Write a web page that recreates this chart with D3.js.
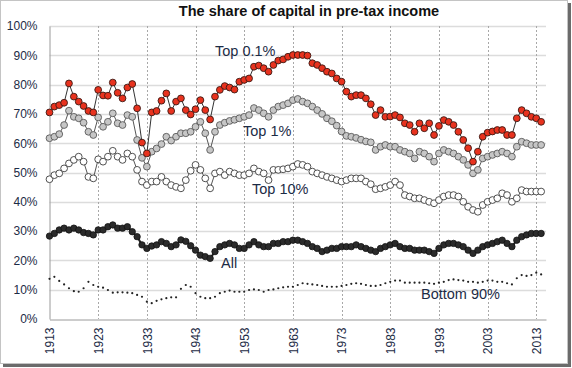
<!DOCTYPE html>
<html>
<head>
<meta charset="utf-8">
<script src="https://cdn.jsdelivr.net/npm/d3@7"></script>
<style>
	body { margin: 0; background: #fff; }
	svg { display: block; font-family: Arial, "Liberation Sans", sans-serif; }
</style>
</head>
<body>
<div id="chart"></div>
<script>
// <!-- ================================= -->
// <!-- DATA (share of capital, %, 1913-2014) -->
// <!-- ================================= -->
var firstYear = 1913;

var top01 = [70.5, 72.5, 73, 73.8, 80.4, 75.9, 74.2, 72.7, 71, 70.5,
	78.2, 76.3, 76.2, 80.7, 77.2, 75.3, 79, 80.2, 71.9, 60.2,
	56.5, 70.5, 71, 74.5, 77, 71, 74.2, 75.3, 71.3, 69.8,
	71.6, 74.7, 71.3, 68.1, 75.9, 78.2, 79.5, 79, 78.3, 81,
	81.6, 82.1, 86.1, 86.5, 85.6, 84.4, 86.7, 88.2, 88.6, 89.5,
	90.1, 90.1, 90.1, 89.9, 87.3, 86.7, 85.6, 84.4, 83.8, 82.1,
	81, 77.6, 75.9, 76.4, 76.4, 75.3, 73.3, 69.6, 71.3, 69,
	69.1, 69.6, 68.8, 66.8, 66.2, 63.9, 66.8, 65.1, 66.8, 62.8,
	65.9, 67.9, 67.3, 66.2, 63.9, 61.1, 58.3, 53.7, 57.1, 62.2,
	63.6, 64, 64.5, 64.5, 62.8, 62.8, 68.5, 71.3, 70.2, 69,
	68.5, 67.3];

var top1 = [61.7, 62.2, 63.1, 66.2, 71.1, 69, 68.5, 67, 63.9, 62.8,
	68.8, 65.6, 67.3, 70.2, 66.8, 66.2, 69.6, 69, 61.1, 55,
	52, 57.1, 58.2, 59.7, 62.2, 60.9, 62.2, 63.4, 63.4, 63.9,
	65.6, 67.3, 63.4, 57.7, 63.9, 66.2, 67, 67.6, 68, 68.5,
	69, 69.6, 72, 71.3, 70.2, 69, 71.3, 72.5, 73, 73.6,
	74.7, 75.1, 74.2, 73.6, 72.5, 71.3, 70, 68.5, 67.5, 66,
	64, 62.5, 62.2, 61.8, 61.2, 60.6, 60.3, 57.7, 58.8, 59.4,
	58.8, 58.8, 57.7, 57.1, 56.5, 54.8, 57.1, 56.5, 55.4, 53.7,
	56.5, 57.7, 57.1, 56.5, 55.4, 54.3, 52.6, 49.7, 50.9, 54.8,
	55.4, 56, 56.5, 57.1, 56.5, 55.4, 58.8, 60.5, 60, 59.4,
	59.4, 59.4];

var top10 = [47.7, 49.1, 49.7, 51.4, 53.1, 54.3, 55.4, 53.7, 48.5, 48,
	54.5, 53.7, 55.4, 57.4, 55.4, 54.3, 56.5, 55.4, 50.9, 46.9,
	45.7, 46.9, 46.9, 48.5, 46.9, 45.7, 45.1, 44.6, 47.4, 50.6,
	52.6, 50.9, 48, 44.6, 49.7, 50.3, 49.1, 50.3, 49.7, 49.1,
	49.1, 49.7, 51.4, 50.3, 49.7, 47.4, 50.9, 50.9, 51.1, 51.4,
	52, 52.9, 52.6, 52, 50.3, 49.7, 49.1, 48.5, 48, 47.4,
	46.9, 47.4, 48, 48, 48, 46.9, 46, 44.3, 44.6, 45.1,
	45.7, 46.9, 45.7, 42.3, 41.8, 41.2, 41.2, 40.6, 40, 39.5,
	40.6, 41.8, 42.3, 42.3, 41.8, 40, 38.3, 37.2, 36.6, 38.9,
	40, 40.6, 41.2, 42.9, 42.3, 40, 41.2, 44, 43.5, 43.5,
	43.5, 43.5];

var allIncome = [28.3, 29.2, 30.4, 31, 30.4, 31, 30.4, 29.5, 29.2, 28.7,
	30.4, 30.4, 31.5, 32.1, 31, 31, 31.5, 29.8, 28.1, 25.3,
	24.1, 24.9, 25.3, 26.4, 25.8, 24.7, 25.3, 27, 26.5, 25,
	23.5, 21.8, 21.3, 20.7, 23, 24.7, 25.3, 25.8, 25.3, 24.1,
	24.1, 25.3, 26.4, 25.3, 24.7, 24.7, 25.8, 25.8, 26.4, 26.4,
	26.9, 26.9, 26.4, 25.8, 24.7, 24.1, 23, 23.5, 24.1, 24.1,
	24.7, 24.7, 24.7, 25.3, 24.7, 24.1, 23.5, 23, 24.1, 24.7,
	25.3, 25.8, 24.7, 24.1, 24.1, 23.5, 23.5, 23.5, 23, 22.4,
	24.1, 25.3, 25.8, 25.8, 25.3, 24.7, 23.5, 22.4, 23.5, 24.7,
	25.3, 25.8, 26.4, 26.9, 25.8, 24.7, 26.9, 28.1, 28.7, 29.2,
	29.2, 29.2];

var bottom90 = [13.7, 14.4, 13, 11.8, 10.5, 9.5, 9.3, 10.5, 12.7, 11.6,
	11, 10.7, 9.9, 9, 9.1, 9.1, 9, 8.8, 8.2, 7.6,
	5.9, 5.4, 6.2, 6.7, 7.1, 7.4, 7.4, 10.3, 11.6, 11,
	8.8, 7.6, 7.1, 7.1, 7.6, 8.8, 9.3, 9.7, 9.3, 9.3,
	9.3, 9.9, 10.1, 9.9, 9.3, 9.9, 10.1, 10.5, 10.8, 11,
	11, 11.6, 12.2, 12, 11.8, 11.6, 11.3, 11, 11, 11,
	11.3, 11.6, 12, 12.2, 12, 11.6, 11.3, 11.3, 11.6, 12.2,
	12.7, 13.1, 13.1, 12.4, 12.4, 12.4, 12.4, 12.4, 12.2, 12,
	12.4, 12.7, 13.3, 13.5, 13.3, 13.1, 12.7, 12.7, 12.4, 12.7,
	13.1, 13.1, 12.7, 12.7, 12.2, 11.8, 13.9, 15, 14.7, 15,
	15.8, 15.2];

var xTicks = [1913, 1923, 1933, 1943, 1953, 1963, 1973, 1983, 1993, 2003, 2013];
var yTicks = [0, 10, 20, 30, 40, 50, 60, 70, 80, 90, 100];

var seriesLabels = ['Top 0.1%', 'Top 1%', 'Top 10%', 'All', 'Bottom 90%'];

// <!-- ================================= -->
// <!-- CHART -->
// <!-- ================================= -->
var width = 572;
var height = 368;
var textColor = '#1c2b45';

var svg = d3.select('#chart')
	.append('svg')
	.attr('width', width)
	.attr('height', height);

// frame + drop shadow
svg.append('rect')
	.attr('x', 3).attr('y', 3)
	.attr('width', 568).attr('height', 364)
	.attr('fill', '#6b6b6b');
svg.append('rect')
	.attr('x', 0.5).attr('y', 0.5)
	.attr('width', 567).attr('height', 363)
	.attr('fill', '#fff')
	.attr('stroke', '#c4c4c4');

var x = d3.scaleLinear().domain([1913, 2015]).range([49.5, 546]);
var y = d3.scaleLinear().domain([0, 100]).range([319, 26]);

// horizontal gridlines
svg.append('g')
	.selectAll('line')
	.data(yTicks.slice(1))
	.enter()
	.append('line')
	.attr('x1', x(1913)).attr('x2', x(2015))
	.attr('y1', function (d) { return Math.round(y(d)) + 0.5; })
	.attr('y2', function (d) { return Math.round(y(d)) + 0.5; })
	.attr('stroke', '#dcdcdc')
	.attr('stroke-width', 1.5);

// vertical dashed gridlines
svg.append('g')
	.selectAll('line')
	.data(xTicks.slice(1))
	.enter()
	.append('line')
	.attr('x1', function (d) { return Math.round(x(d)) + 0.5; })
	.attr('x2', function (d) { return Math.round(x(d)) + 0.5; })
	.attr('y1', y(100)).attr('y2', y(0))
	.attr('stroke', '#a8a8a8')
	.attr('stroke-dasharray', '2,2');

// y axis
var yAxis = svg.append('g')
	.attr('transform', 'translate(49.5,0)')
	.call(d3.axisLeft(y).tickValues(yTicks).tickFormat(function (d) { return d + '%'; }).tickSize(0).tickPadding(12));
yAxis.select('.domain').attr('stroke', '#9a9a9a');
yAxis.selectAll('text')
	.attr('fill', textColor)
	.style('font-size', '12px');

// x axis with rotated year labels
var xAxis = svg.append('g')
	.attr('transform', 'translate(0,319.5)')
	.call(d3.axisBottom(x).tickValues(xTicks).tickFormat(d3.format('d')).tickSize(0));
xAxis.select('.domain').attr('stroke', '#9a9a9a');
xAxis.selectAll('text')
	.attr('transform', 'rotate(-90)')
	.attr('text-anchor', 'end')
	.attr('x', -8)
	.attr('y', 0)
	.attr('dy', '0.36em')
	.attr('fill', textColor)
	.style('font-size', '12px');

// title
svg.append('text')
	.attr('x', 309)
	.attr('y', 16)
	.attr('text-anchor', 'middle')
	.attr('font-weight', 'bold')
	.attr('font-size', '14.5px')
	.attr('fill', '#111')
	.text('The share of capital in pre-tax income');

// line helper
var line = d3.line()
	.x(function (d, i) { return x(firstYear + i); })
	.y(function (d) { return y(d); });

function drawSeries(values, opts) {
	var g = svg.append('g');
	if (opts.line) {
		g.append('path')
			.attr('d', line(values))
			.attr('fill', 'none')
			.attr('stroke', opts.lineColor)
			.attr('stroke-width', opts.lineWidth);
	}
	g.selectAll('circle')
		.data(values)
		.enter()
		.append('circle')
		.attr('cx', function (d, i) { return x(firstYear + i); })
		.attr('cy', function (d) { return y(d); })
		.attr('r', opts.r)
		.attr('fill', opts.fill)
		.attr('stroke', opts.stroke)
		.attr('stroke-width', opts.strokeWidth);
}

// Bottom 90% - just dots
drawSeries(bottom90, { line: false, r: 1.1, fill: '#222', stroke: 'none', strokeWidth: 0 });
// All - dense black markers
drawSeries(allIncome, { line: true, lineColor: '#222', lineWidth: 2, r: 3.2, fill: '#2b2b2b', stroke: '#111', strokeWidth: 0.8 });
// Top 10% - white markers
drawSeries(top10, { line: true, lineColor: '#555', lineWidth: 1, r: 3.4, fill: '#fff', stroke: '#3c3c3c', strokeWidth: 0.9 });
// Top 1% - grey markers
drawSeries(top1, { line: true, lineColor: '#555', lineWidth: 1, r: 3.4, fill: '#c6c6c6', stroke: '#5a5a5a', strokeWidth: 0.9 });
// Top 0.1% - red markers
drawSeries(top01, { line: true, lineColor: '#333', lineWidth: 1, r: 3.4, fill: '#e8321e', stroke: '#3a1a14', strokeWidth: 0.9 });

// series labels
var labelPos = [[215, 56], [243, 136], [252, 194], [221, 268], [421, 299]];
svg.append('g')
	.selectAll('text')
	.data(seriesLabels)
	.enter()
	.append('text')
	.attr('x', function (d, i) { return labelPos[i][0]; })
	.attr('y', function (d, i) { return labelPos[i][1]; })
	.attr('font-size', '14.5px')
	.attr('fill', textColor)
	.text(function (d) { return d; });
</script>
</body>
</html>
